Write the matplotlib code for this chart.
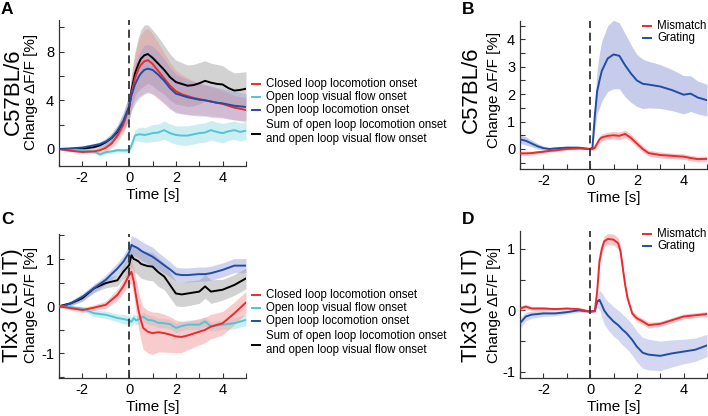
import numpy as np
import matplotlib
matplotlib.use("Agg")
import matplotlib.pyplot as plt
from matplotlib.lines import Line2D

plt.rcParams['font.family'] = ['Liberation Sans', 'DejaVu Sans']
plt.rcParams['axes.unicode_minus'] = False

W, H = 708, 416

# ---------------- data ----------------
# panel A: C57BL/6, locomotion onsets
t_a = [-3, -2.5, -2, -1.5, -1.25, -1, -0.75, -0.5, -0.25, 0, 0.1, 0.25, 0.4, 0.5, 0.65, 0.8, 1,
       1.25, 1.5, 1.75, 2, 2.25, 2.5, 2.75, 3, 3.25, 3.5, 3.75, 4, 4.25, 4.5, 4.75, 5]
closed_a = [0, -0.15, -0.25, -0.2, -0.1, 0.1, 0.45, 1.1, 2.0, 3.4, 4.6, 5.8, 6.6, 6.9, 7.2, 7.3, 7.0,
            6.4, 5.8, 5.2, 4.75, 4.5, 4.35, 4.2, 4.1, 4.0, 3.9, 3.8, 3.7, 3.55, 3.4, 3.3, 3.2]
closed_a_err = [0.05, 0.1, 0.1, 0.15, 0.2, 0.3, 0.4, 0.5, 0.7, 1.0, 1.4, 1.9, 2.3, 2.5, 2.6, 2.6, 2.5,
                2.3, 2.1, 1.9, 1.7, 1.6, 1.5, 1.4, 1.3, 1.25, 1.2, 1.15, 1.1, 1.05, 1.0, 1.0, 1.0]
visual_a = [0, -0.05, -0.1, -0.2, -0.45, -0.27, -0.2, -0.1, -0.12, -0.1, 0.3, 1.1, 1.2, 1.2, 1.15, 1.2, 1.3,
            1.35, 1.55, 1.3, 1.15, 1.1, 1.1, 1.2, 1.3, 1.35, 1.55, 1.4, 1.3, 1.45, 1.55, 1.4, 1.5]
visual_a_err = [0.05, 0.1, 0.1, 0.12, 0.15, 0.15, 0.15, 0.15, 0.15, 0.2, 0.3, 0.45, 0.55, 0.6, 0.6, 0.65, 0.7,
                0.7, 0.75, 0.75, 0.75, 0.8, 0.8, 0.8, 0.8, 0.8, 0.8, 0.8, 0.8, 0.75, 0.75, 0.75, 0.7]
open_a = [0, 0.05, 0.12, 0.3, 0.4, 0.6, 0.9, 1.5, 2.3, 3.5, 4.4, 5.3, 5.9, 6.2, 6.5, 6.6, 6.5,
          6.1, 5.6, 5.0, 4.55, 4.4, 4.25, 4.15, 4.05, 4.0, 3.9, 3.8, 3.75, 3.65, 3.55, 3.5, 3.45]
open_a_err = [0.05, 0.08, 0.1, 0.15, 0.2, 0.25, 0.35, 0.5, 0.7, 1.0, 1.3, 1.6, 1.8, 1.9, 2.0, 2.0, 1.95,
              1.9, 1.8, 1.7, 1.6, 1.5, 1.45, 1.4, 1.35, 1.3, 1.3, 1.25, 1.2, 1.2, 1.15, 1.15, 1.1]
sum_a = [0, 0.0, 0.02, 0.15, 0.3, 0.55, 0.9, 1.4, 2.2, 3.4, 4.8, 6.2, 7.0, 7.4, 7.7, 7.8, 7.5,
         7.0, 6.5, 5.9, 5.5, 5.35, 5.2, 5.25, 5.4, 5.6, 5.45, 5.35, 5.3, 5.0, 4.8, 4.85, 4.95]
sum_a_err = [0.1, 0.1, 0.15, 0.2, 0.25, 0.3, 0.4, 0.5, 0.7, 1.0, 1.4, 1.8, 2.2, 2.4, 2.5, 2.4, 2.3,
             2.2, 2.0, 1.9, 1.8, 1.75, 1.7, 1.7, 1.7, 1.65, 1.6, 1.6, 1.55, 1.5, 1.45, 1.45, 1.4]

# panel B: C57BL/6, mismatch / grating
t_b = [-3, -2.75, -2.5, -2.25, -2, -1.75, -1.5, -1, -0.5, 0, 0.1, 0.2, 0.3, 0.4, 0.5, 0.75, 1,
       1.25, 1.5, 1.75, 2, 2.25, 2.5, 3, 3.5, 4, 4.3, 4.6, 5]
grating_b = [0.35, 0.3, 0.2, 0.1, 0.03, 0.0, 0.02, 0.05, 0.05, 0.0, 0.05, 1.2, 2.1, 2.5, 2.85, 3.3, 3.45,
             3.4, 3.05, 2.75, 2.5, 2.38, 2.35, 2.28, 2.15, 1.98, 2.02, 1.88, 1.78]
grating_b_err = [0.15, 0.15, 0.12, 0.1, 0.08, 0.06, 0.05, 0.05, 0.04, 0.03, 0.05, 0.5, 0.8, 1.0, 1.1, 1.2, 1.25,
                 1.2, 1.15, 1.05, 0.95, 0.9, 0.85, 0.8, 0.75, 0.7, 0.65, 0.6, 0.58]
mismatch_b = [-0.16, -0.16, -0.15, -0.12, -0.1, -0.07, -0.05, 0.0, 0.02, 0.0, 0.0, 0.05, 0.2, 0.35, 0.42, 0.48, 0.5,
              0.48, 0.55, 0.4, 0.2, 0.0, -0.15, -0.22, -0.25, -0.28, -0.33, -0.37, -0.36]
mismatch_b_err = [0.08, 0.08, 0.07, 0.06, 0.05, 0.04, 0.04, 0.03, 0.03, 0.03, 0.05, 0.08, 0.1, 0.12, 0.13, 0.13, 0.14,
                  0.14, 0.14, 0.13, 0.12, 0.12, 0.11, 0.11, 0.1, 0.1, 0.1, 0.1, 0.1]

# panel C: Tlx3 (L5 IT), locomotion onsets
t_c = [-3, -2.5, -2, -1.5, -1, -0.5, -0.25, 0, 0.1, 0.2, 0.3, 0.4, 0.5, 0.6, 0.8, 1,
       1.25, 1.5, 1.75, 2, 2.25, 2.5, 3, 3.25, 3.5, 4, 4.5, 5]
closed_c = [0.0, -0.04, -0.08, -0.03, 0.03, 0.24, 0.42, 0.66, 0.73, 0.52, 0.2, -0.08, -0.29, -0.46, -0.54, -0.57,
            -0.55, -0.57, -0.6, -0.64, -0.65, -0.62, -0.54, -0.5, -0.43, -0.36, -0.15, 0.08]
closed_c_err = [0.02, 0.04, 0.05, 0.06, 0.08, 0.12, 0.15, 0.2, 0.25, 0.3, 0.35, 0.4, 0.42, 0.45, 0.45, 0.45,
                0.42, 0.4, 0.38, 0.35, 0.33, 0.3, 0.28, 0.27, 0.26, 0.25, 0.24, 0.23]
visual_c = [0.0, -0.02, -0.05, -0.15, -0.18, -0.25, -0.27, -0.3, -0.33, -0.25, -0.3, -0.28, -0.25, -0.22, -0.29, -0.3,
            -0.35, -0.36, -0.38, -0.46, -0.42, -0.39, -0.39, -0.32, -0.43, -0.39, -0.36, -0.29]
visual_c_err = [0.02, 0.04, 0.05, 0.07, 0.08, 0.08, 0.1, 0.1, 0.1, 0.1, 0.1, 0.1, 0.1, 0.1, 0.1, 0.1,
                0.1, 0.1, 0.1, 0.1, 0.1, 0.1, 0.1, 0.1, 0.1, 0.1, 0.12, 0.12]
open_c = [-0.02, 0.06, 0.2, 0.38, 0.56, 0.8, 0.94, 1.14, 1.3, 1.27, 1.25, 1.22, 1.18, 1.15, 1.1, 1.05,
          0.96, 0.87, 0.78, 0.68, 0.66, 0.66, 0.68, 0.68, 0.7, 0.77, 0.86, 0.86]
open_c_err = [0.03, 0.05, 0.07, 0.08, 0.1, 0.12, 0.13, 0.15, 0.2, 0.2, 0.2, 0.2, 0.2, 0.2, 0.2, 0.2,
              0.18, 0.17, 0.16, 0.15, 0.15, 0.15, 0.15, 0.15, 0.15, 0.15, 0.15, 0.15]
sum_c = [0.0, 0.06, 0.17, 0.38, 0.49, 0.55, 0.73, 0.87, 1.08, 1.0, 0.98, 0.95, 0.9, 0.88, 0.85, 0.84,
         0.72, 0.63, 0.45, 0.27, 0.25, 0.27, 0.31, 0.42, 0.31, 0.35, 0.45, 0.59]
sum_c_err = [0.03, 0.05, 0.07, 0.09, 0.1, 0.12, 0.15, 0.2, 0.25, 0.27, 0.28, 0.3, 0.3, 0.3, 0.3, 0.3,
             0.3, 0.28, 0.27, 0.26, 0.26, 0.26, 0.25, 0.25, 0.25, 0.22, 0.22, 0.22]

# panel D: Tlx3 (L5 IT), mismatch / grating
t_d = [-3, -2.75, -2.5, -2, -1.5, -1, -0.5, 0, 0.2, 0.3, 0.4, 0.5, 0.6, 0.75, 1, 1.2, 1.3, 1.4,
       1.5, 1.6, 1.8, 2, 2.25, 2.5, 3, 3.5, 4, 4.5, 5]
mismatch_d = [0.03, 0.06, 0.03, 0.03, 0.02, 0.03, 0.02, -0.02, -0.01, 0.3, 0.8, 1.0, 1.12, 1.16, 1.15, 1.09, 0.96,
              0.68, 0.41, 0.2, -0.05, -0.13, -0.18, -0.24, -0.22, -0.16, -0.1, -0.08, -0.06]
mismatch_d_err = [0.04, 0.04, 0.03, 0.03, 0.02, 0.02, 0.02, 0.02, 0.02, 0.04, 0.06, 0.08, 0.09, 0.09, 0.09, 0.09,
                  0.08, 0.07, 0.06, 0.05, 0.05, 0.05, 0.05, 0.05, 0.04, 0.04, 0.04, 0.04, 0.04]
grating_d = [-0.21, -0.1, -0.07, -0.05, -0.05, -0.03, 0.0, -0.02, -0.01, 0.14, 0.17, 0.09, 0.0, -0.08, -0.18, -0.24,
             -0.28, -0.32, -0.35, -0.39, -0.48, -0.59, -0.69, -0.72, -0.74, -0.7, -0.67, -0.64, -0.57]
grating_d_err = [0.08, 0.07, 0.06, 0.05, 0.04, 0.03, 0.03, 0.02, 0.03, 0.1, 0.15, 0.2, 0.22, 0.23, 0.24, 0.24,
                 0.25, 0.25, 0.25, 0.25, 0.25, 0.25, 0.25, 0.25, 0.24, 0.22, 0.2, 0.19, 0.18]

loco_labels = ['Closed loop locomotion onset', 'Open loop visual flow onset',
               'Open loop locomotion onset',
               'Sum of open loop locomotion onset\nand open loop visual flow onset']
mm_labels = ['Mismatch', 'Grating']

RED = '#ec2a2e'
BLUE = '#1f4ea6'
CYAN = '#52c5d5'
BLACK = '#000000'


def px(x, y):
    # pixel position (from top left) -> figure fraction
    return x / W, 1 - y / H


def trace(ax, t, m, e, color, band, alpha, z):
    t = np.array(t)
    m = np.array(m)
    e = np.array(e)
    ax.fill_between(t, m - e, m + e, color=band, alpha=alpha, lw=0, zorder=z)
    ax.plot(t, m, color=color, lw=1.4, zorder=z + 10)


def style_axes(ax, ylim, yticks, yminor):
    ax.set_xlim(-3, 5)
    ax.set_ylim(*ylim)
    ax.set_xticks([-2, 0, 2, 4])
    ax.set_xticks([-3, -1, 1, 3, 5], minor=True)
    ax.set_yticks(yticks)
    ax.set_yticks(yminor, minor=True)
    for s in ['top', 'right']:
        ax.spines[s].set_visible(False)
    for s in ['left', 'bottom']:
        ax.spines[s].set_linewidth(0.9)
        ax.spines[s].set_color('#333333')
    ax.tick_params(which='both', direction='in', length=3.5, width=0.8, color='#333333')
    ax.tick_params(labelsize=10.5, pad=3.5)
    ax.set_xlabel('Time [s]', fontsize=11, labelpad=2)
    ax.axvline(0, color='#333333', lw=1.3, dashes=(4.5, 2.6), zorder=30)


def ylabels(fig, x_big, x_small, y, big):
    fig.text(*px(x_big, y), big, rotation=90, ha='center', va='center', fontsize=16)
    fig.text(*px(x_small, y), 'Change \u0394F/F [%]', rotation=90, ha='center', va='center', fontsize=11)


def legend(fig, x, rows, colors, labels):
    for (yl, ys), c, lab in zip(rows, colors, labels):
        x0, y0 = px(x, yl)
        x1, _ = px(x + 8, yl)
        fig.add_artist(Line2D([x0, x1], [y0, y0], color=c, lw=1.4, transform=fig.transFigure))
        fig.text(*px(x + 14, ys), lab, ha='left', va='center', fontsize=8.3, linespacing=1.15)


fig = plt.figure(figsize=(W / 100, H / 100), dpi=100)

ax_a = fig.add_axes([59 / W, 1 - 166 / H, 187 / W, 146 / H])
ax_b = fig.add_axes([520 / W, 1 - 169 / H, 187 / W, 148 / H])
ax_c = fig.add_axes([59 / W, 1 - 378 / H, 187 / W, 144 / H])
ax_d = fig.add_axes([520 / W, 1 - 378 / H, 187 / W, 147 / H])

# panel A
trace(ax_a, t_a, sum_a, sum_a_err, BLACK, '#b5b5b5', 0.6, 1)
trace(ax_a, t_a, visual_a, visual_a_err, CYAN, '#8fdbe6', 0.45, 2)
trace(ax_a, t_a, closed_a, closed_a_err, RED, '#f08080', 0.35, 3)
trace(ax_a, t_a, open_a, open_a_err, BLUE, '#8a93d8', 0.35, 4)
ax_a.lines[-1].set_zorder(15)
style_axes(ax_a, (-1.4, 10.6), [0, 4, 8], [2, 6, 10])

# panel B
trace(ax_b, t_b, grating_b, grating_b_err, BLUE, '#9aa2dc', 0.55, 1)
trace(ax_b, t_b, mismatch_b, mismatch_b_err, RED, '#f39a9a', 0.55, 2)
style_axes(ax_b, (-0.73, 4.67), [0, 1, 2, 3, 4], [-0.5, 0.5, 1.5, 2.5, 3.5, 4.5])

# panel C
trace(ax_c, t_c, sum_c, sum_c_err, BLACK, '#b5b5b5', 0.6, 1)
trace(ax_c, t_c, open_c, open_c_err, BLUE, '#8a93d8', 0.4, 2)
trace(ax_c, t_c, visual_c, visual_c_err, CYAN, '#8fdbe6', 0.45, 3)
trace(ax_c, t_c, closed_c, closed_c_err, RED, '#f39a9a', 0.5, 4)
style_axes(ax_c, (-1.52, 1.53), [-1, 0, 1], [-1.5, -0.5, 0.5, 1.5])

# panel D
trace(ax_d, t_d, grating_d, grating_d_err, BLUE, '#aab0e2', 0.5, 1)
trace(ax_d, t_d, mismatch_d, mismatch_d_err, RED, '#f39a9a', 0.55, 2)
style_axes(ax_d, (-1.1, 1.29), [-1, 0, 1], [-0.5, 0.5])

# axis labels
ylabels(fig, 13, 30.5, 92, 'C57BL/6')
ylabels(fig, 471, 494, 90, 'C57BL/6')
ylabels(fig, 13, 30.5, 305, 'Tlx3 (L5 IT)')
ylabels(fig, 471, 494, 305, 'Tlx3 (L5 IT)')

# legends
loco_colors = [RED, CYAN, BLUE, BLACK]
legend(fig, 252, [(84, 84), (97, 97), (110, 110), (134, 132)], loco_colors, loco_labels)
legend(fig, 252, [(295, 295), (308, 308), (321, 321), (345, 343)], loco_colors, loco_labels)
legend(fig, 643, [(26, 26), (38, 38)], [RED, BLUE], mm_labels)
legend(fig, 643, [(234, 234), (246, 246)], [RED, BLUE], mm_labels)

# panel letters
for lab, x, y in [('A', 1, 10), ('B', 462, 10), ('C', 1, 219), ('D', 462, 219)]:
    fig.text(*px(x, y), lab, fontsize=12.5, fontweight='bold', ha='left', va='center')

fig.savefig('out.png', dpi=100)
